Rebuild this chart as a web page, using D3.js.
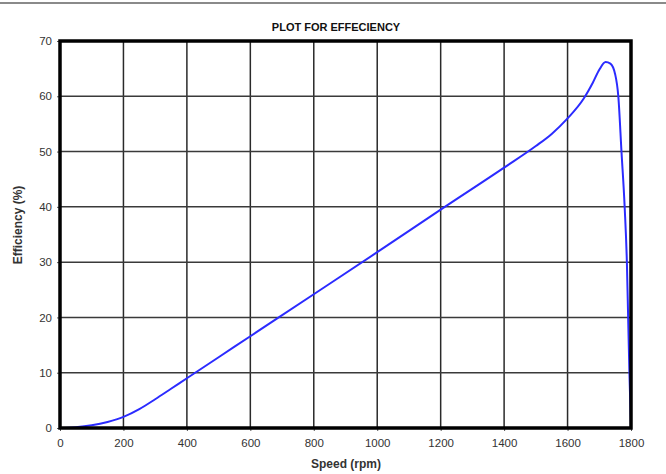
<!DOCTYPE html>
<html>
<head>
<meta charset="utf-8">
<script src="https://cdn.jsdelivr.net/npm/d3@7"></script>
<style>
html,body{margin:0;padding:0;background:#fff;}
svg{display:block;font-family:"Liberation Sans",Arial,sans-serif;}
</style>
</head>
<body>
<svg id="chart" width="666" height="474"></svg>
<script>
const speed = [0,50,100,150,200,250,300,350,400,500,600,800,1000,1200,1400,1500,1550,1600,1650,1680,1700,1720,1735,1750,1760,1770,1780,1787,1791,1795,1800];
const efficiency = [0,0.15,0.5,1.1,2.0,3.4,5.2,7.1,9.0,12.8,16.6,24.2,31.8,39.5,47.1,51.0,53.2,56.0,59.5,62.5,64.8,66.2,65.9,64.0,60.0,50.0,40.0,30.0,20.0,10.0,0];
const xTicks = [0,200,400,600,800,1000,1200,1400,1600,1800];
const yTicks = [0,10,20,30,40,50,60,70];

const svg = d3.select("#chart");
const L = 60, R = 631, T = 41, B = 428;
const x = d3.scaleLinear().domain([0,1800]).range([L,R]);
const y = d3.scaleLinear().domain([0,70]).range([B,T]);

// top rule
svg.append("line").attr("x1",0).attr("x2",666).attr("y1",3).attr("y2",3)
  .attr("stroke","#8a8a8a").attr("stroke-width",2);

// gridlines
svg.append("g").selectAll("line").data(xTicks.slice(1,-1)).join("line")
  .attr("x1",d=>x(d)).attr("x2",d=>x(d)).attr("y1",T).attr("y2",B)
  .attr("stroke","#2a2a2a").attr("stroke-width",1.5);
svg.append("g").selectAll("line").data(yTicks.slice(1,-1)).join("line")
  .attr("x1",L).attr("x2",R).attr("y1",d=>y(d)).attr("y2",d=>y(d))
  .attr("stroke","#3a3a3a").attr("stroke-width",1.5);

// axes
const xAxis = d3.axisBottom(x).tickValues(xTicks).tickFormat(d3.format("d")).tickSize(3).tickPadding(8);
const gx = svg.append("g").attr("transform",`translate(0,${B})`).call(xAxis);
gx.select(".domain").remove();
gx.selectAll("text").attr("font-size",11.5).attr("fill","#333").attr("font-family","Liberation Sans, Arial, sans-serif");
gx.selectAll("line").attr("stroke","#555");

const yAxis = d3.axisLeft(y).tickValues(yTicks).tickFormat(d3.format("d")).tickSize(3).tickPadding(5);
const gy = svg.append("g").attr("transform",`translate(${L},0)`).call(yAxis);
gy.select(".domain").remove();
gy.selectAll("text").attr("font-size",11.5).attr("fill","#333").attr("font-family","Liberation Sans, Arial, sans-serif");
gy.selectAll("line").attr("stroke","#555");

// curve
const line = d3.line().x((d,i)=>x(speed[i])).y(d=>y(d)).curve(d3.curveMonotoneX);
svg.append("path").datum(efficiency).attr("d",line)
  .attr("fill","none").attr("stroke","#2b2bff").attr("stroke-width",2);

// frame
svg.append("rect").attr("x",L).attr("y",T).attr("width",R-L).attr("height",B-T)
  .attr("fill","none").attr("stroke","#000").attr("stroke-width",3.5);

// titles
svg.append("text").attr("x",336).attr("y",31).attr("text-anchor","middle")
  .attr("font-size",11).attr("font-weight","bold").attr("fill","#111").text("PLOT FOR EFFECIENCY");
svg.append("text").attr("x",346).attr("y",468).attr("text-anchor","middle")
  .attr("font-size",12).attr("font-weight","bold").attr("fill","#333").text("Speed (rpm)");
svg.append("text").attr("transform","translate(22,225) rotate(-90)").attr("text-anchor","middle")
  .attr("font-size",12).attr("font-weight","bold").attr("fill","#333").text("Efficiency (%)");
</script>
</body>
</html>
